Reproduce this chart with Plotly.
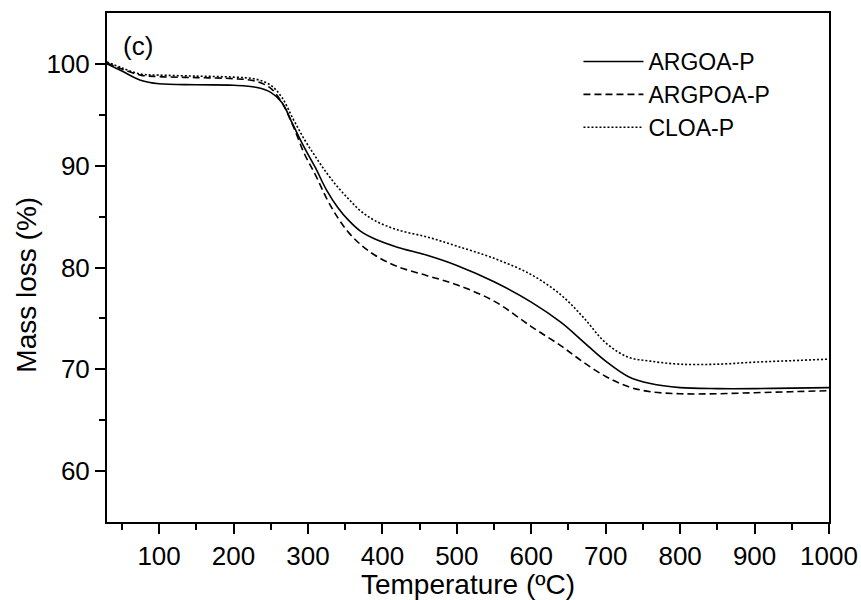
import plotly.graph_objects as go

temperature = [30, 50, 75, 100, 150, 200, 230, 250, 265, 280, 295, 310, 325, 340, 355, 370,
               390, 420, 460, 500, 550, 600, 640, 670, 700, 730, 760, 800, 850, 900, 950, 1000]

argoa_p = [100.0, 99.3, 98.4, 98.05, 97.95, 97.9, 97.7, 97.2, 96.2, 94.0, 91.8, 89.8, 87.6, 85.9, 84.6, 83.6,
           82.8, 82.0, 81.2, 80.2, 78.6, 76.6, 74.6, 72.7, 70.8, 69.3, 68.6, 68.2, 68.1, 68.1, 68.15, 68.2]

argpoa_p = [100.1, 99.5, 98.9, 98.75, 98.65, 98.55, 98.3, 97.6, 96.2, 93.9, 91.2, 89.1, 86.8, 84.9, 83.4, 82.3,
            81.2, 80.1, 79.2, 78.3, 76.7, 74.2, 72.3, 70.7, 69.3, 68.3, 67.8, 67.6, 67.6, 67.7, 67.8, 67.9]

cloa_p = [100.2, 99.6, 99.0, 98.9, 98.8, 98.7, 98.5, 97.9, 96.7, 94.6, 92.6, 90.9, 89.3, 87.9, 86.7, 85.6,
          84.6, 83.7, 83.0, 82.1, 80.9, 79.3, 77.3, 75.1, 72.6, 71.2, 70.8, 70.5, 70.5, 70.7, 70.85, 71.0]

x_ticks = [100, 200, 300, 400, 500, 600, 700, 800, 900, 1000]
y_ticks = [60, 70, 80, 90, 100]

FONT = "Arial, Liberation Sans, sans-serif"

fig = go.Figure()
fig.add_trace(go.Scatter(x=temperature, y=argoa_p, name="ARGOA-P", mode="lines",
                         line=dict(color="black", width=1.6, shape="spline", smoothing=1)))
fig.add_trace(go.Scatter(x=temperature, y=argpoa_p, name="ARGPOA-P", mode="lines",
                         line=dict(color="black", width=1.6, dash="7px,4px", shape="spline", smoothing=1)))
fig.add_trace(go.Scatter(x=temperature, y=cloa_p, name="CLOA-P", mode="lines",
                         line=dict(color="black", width=1.6, dash="2px,2px", shape="spline", smoothing=1)))

fig.update_layout(
    width=861, height=600,
    margin=dict(l=107, r=32, t=13, b=78),
    paper_bgcolor="white", plot_bgcolor="white",
    font=dict(family=FONT, color="black", size=26),
    showlegend=True,
    legend=dict(x=0.653, y=0.947, xanchor="left", yanchor="top",
                font=dict(family=FONT, size=23, color="black"),
                bgcolor="rgba(0,0,0,0)", tracegroupgap=0, itemwidth=60),
    xaxis=dict(range=[30, 1000], tickvals=x_ticks, ticktext=[str(v) for v in x_ticks],
               automargin=False,
               showgrid=False, zeroline=False, showline=True, linecolor="black", linewidth=2,
               mirror=True, ticks="outside", ticklen=10, tickwidth=2, tickcolor="black",
               minor=dict(tickvals=[50, 150, 250, 350, 450, 550, 650, 750, 850, 950],
                          ticks="outside", ticklen=6, tickwidth=2, tickcolor="black"),
               tickfont=dict(size=26),
               title=dict(text="Temperature (ºC)", font=dict(size=28), standoff=8)),
    yaxis=dict(range=[55, 105], tickvals=y_ticks, ticktext=[str(v) for v in y_ticks],
               automargin=False,
               showgrid=False, zeroline=False, showline=True, linecolor="black", linewidth=2,
               mirror=True, ticks="outside", ticklen=10, tickwidth=2, tickcolor="black",
               minor=dict(tickvals=[65, 75, 85, 95], ticks="outside", ticklen=6, tickwidth=2,
                          tickcolor="black"),
               tickfont=dict(size=26)),
    annotations=[
        dict(text="Mass loss (%)", x=-0.111, y=0.466, xref="paper", yref="paper",
             xanchor="center", yanchor="middle", textangle=-90, showarrow=False,
             font=dict(size=28, family=FONT, color="black")),
        dict(text="(c)", x=0.043, y=0.935, xref="paper", yref="paper",
             xanchor="center", yanchor="middle", showarrow=False,
             font=dict(size=26, family=FONT, color="black")),
    ],
)

fig.write_html("out.html")
